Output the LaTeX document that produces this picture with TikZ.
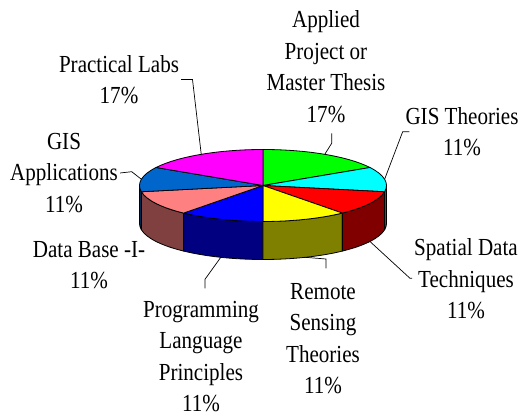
\documentclass[tikz,border=0pt]{standalone}
\usepackage{fontspec}
\setmainfont{Liberation Serif}[FakeStretch=0.86]

% top faces of the slices
\definecolor{tgreen}{HTML}{00FF00}
\definecolor{tcyan}{HTML}{00FFFF}
\definecolor{tred}{HTML}{FF0000}
\definecolor{tyellow}{HTML}{FFFF00}
\definecolor{tblue}{HTML}{0000FF}
\definecolor{tpink}{HTML}{FF8080}
\definecolor{tgis}{HTML}{0066CC}
\definecolor{tmagenta}{HTML}{FF00FF}
% side walls, half as bright
\definecolor{scyan}{HTML}{008080}
\definecolor{sred}{HTML}{800000}
\definecolor{syellow}{HTML}{808000}
\definecolor{sblue}{HTML}{000080}
\definecolor{spink}{HTML}{804040}
\definecolor{sgis}{HTML}{003366}

\begin{document}
\begin{tikzpicture}[x=1pt,y=1pt,
  lbl/.style={align=center, font=\fontsize{24.5}{31.5}\selectfont, inner sep=2pt},
  leader/.style={draw=black, line width=0.7pt},
  piece/.style={draw=black, line width=0.8pt, line join=round}]
\useasboundingbox (-263,-228.5) rectangle (268,185.5);

% front wall of the disc
\foreach \a/\b/\c in {-180/-170/sgis, -170/-130/spink, -130/-90/sblue,
                      -90/-50/syellow, -50/-10/sred, -10/0/scyan}
  \filldraw[piece, fill=\c] (\a:123.5pt and 36pt)
    arc[start angle=\a, end angle=\b, x radius=123.5pt, y radius=36pt]
    -- ++(0,-38)
    arc[start angle=\b, end angle=\a, x radius=123.5pt, y radius=36pt] -- cycle;

% top of the disc
\foreach \a/\b/\c in {30/90/tgreen, -10/30/tcyan, -50/-10/tred, -90/-50/tyellow,
                      -130/-90/tblue, -170/-130/tpink, 150/190/tgis, 90/150/tmagenta}
  \filldraw[piece, fill=\c] (0,0) -- (\a:123.5pt and 36pt)
    arc[start angle=\a, end angle=\b, x radius=123.5pt, y radius=36pt] -- cycle;

% rim points where the leaders meet the slices
\coordinate (eAP) at (60:123.5pt and 36pt);
\coordinate (ePL) at (120:123.5pt and 36pt);
\coordinate (eGT) at (10:123.5pt and 36pt);
\coordinate (eGA) at (170:123.5pt and 36pt);
\begin{scope}[yshift=-38pt]
  \coordinate (eSD) at (-30:123.5pt and 36pt);
  \coordinate (eRS) at (-70:123.5pt and 36pt);
  \coordinate (ePR) at (-110:123.5pt and 36pt);
\end{scope}

% labels
\node[lbl] (lAP) at (63,119) {Applied\\Project or\\Master Thesis\\17\%};
\node[lbl] (lPL) at (-144,106) {Practical Labs\\17\%};
\node[lbl] (lGT) at (199,54) {GIS Theories\\11\%};
\node[lbl] (lGA) at (-199,12.5) {GIS\\Applications\\11\%};
\node[lbl] (lDB) at (-174,-79.5) {Data Base -I-\\11\%};
\node[lbl] (lPR) at (-62,-171) {Programming\\Language\\Principles\\11\%};
\node[lbl] (lRS) at (60,-153) {Remote\\Sensing\\Theories\\11\%};
\node[lbl] (lSD) at (203,-93.5) {Spatial Data\\Techniques\\11\%};

% leader bends and ends
\coordinate (kPL) at (-70.5,106);
\coordinate (kAP) at (68.7,42.2);
\coordinate (tAP) at (68.7,52.2);
\coordinate (kGT) at (139.7,53.8);
\coordinate (kGA) at (-131.3,13.8);
\coordinate (kSD) at (147,-92.8);
\coordinate (kRS) at (63,-73.5);
\coordinate (tRS) at (63,-82.8);
\coordinate (kPR) at (-58,-93.8);
\coordinate (tPR) at (-58,-102.8);

% leaders
\draw[leader] (lPL.east) -- (kPL) -- (ePL);
\draw[leader] (tAP) -- (kAP) -- (eAP);
\draw[leader] ([xshift=6pt]lGT.west |- kGT) -- (kGT) -- (eGT);
\draw[leader] (lGA.east) -- (kGA) -- (eGA);
\draw[leader] (lSD.west |- kSD) -- (kSD) -- (eSD);
\draw[leader] (eRS) -- (kRS) -- (tRS);
\draw[leader] (ePR) -- (kPR) -- (tPR);
\end{tikzpicture}
\end{document}
